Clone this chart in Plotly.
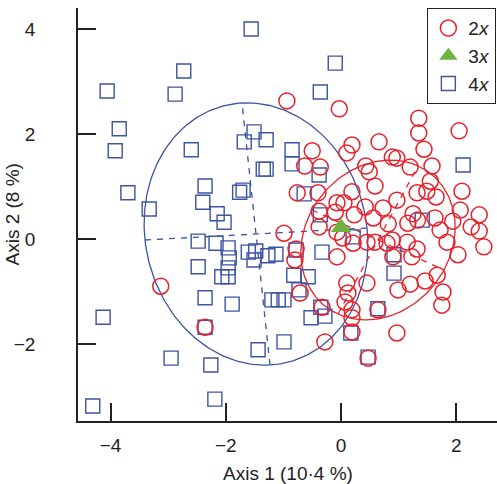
import numpy as np
import plotly.graph_objects as go

# ---- data (axis units) ----
x4 = [-1.56, -2.73, -4.06, -2.88, -3.85, -3.92, -2.60, -3.70, -3.33, -2.36, -2.40,
      -1.51, -1.68, -1.30, -0.85, -0.85, -1.35, -1.30, -2.15, -2.03, -1.76, -1.70,
      -0.64, -0.10, -0.36, -0.38, -0.36, 2.12, 1.41, -2.48, -2.17, -1.96, -1.94,
      -1.61, -1.48, -1.51, -1.27, -1.13, -2.48, -2.07, -1.96, -1.96, -0.82, -0.57,
      -0.73, -0.78, -0.33, 0.21, -2.36, -1.89, -1.20, -1.09, -0.99, -0.35, -0.52,
      -0.28, -2.36, -4.13, -0.99, -1.44, -2.95, -2.26, -2.19, -4.31, 0.17, 0.64,
      0.47, 0.92, 0.92]
y4 = [4.00, 3.20, 2.82, 2.76, 2.10, 1.68, 1.70, 0.88, 0.57, 1.01, 0.70,
      2.04, 1.85, 1.89, 1.70, 1.43, 1.33, 1.33, 0.48, 0.32, 0.89, 0.93,
      0.86, 3.35, 2.80, 1.22, 0.46, 1.41, 0.36, -0.04, -0.08, -0.17, -0.36,
      -0.25, -0.23, -0.40, -0.32, -0.29, -0.53, -0.72, -0.72, -0.55, -0.69, -0.72,
      -0.97, -0.21, -0.25, 0.04, -1.12, -1.24, -1.16, -1.16, -1.16, -1.30, -1.50,
      -1.47, -1.68, -1.49, -1.96, -2.11, -2.27, -2.40, -3.05, -3.18, -1.79, -1.33,
      -2.25, -0.30, -0.65]

x2 = [-3.13, -2.36, -0.94, -0.03, 1.35, 1.35, 2.05, 1.44, 0.66, 0.19, 0.10,
      -0.50, -0.63, -0.36, 0.43, 0.49, 0.89, 0.97, 1.20, 1.58, 1.55, 0.59,
      -0.40, -0.76, 1.65, 1.32, 2.10, 0.19, -0.07, 0.05, 0.42, 0.73, 0.97,
      1.25, 1.63, 1.94, 2.07, 2.40, 2.26, 2.40, 1.72, 1.84, 2.03, 2.48, 1.16,
      1.33, 0.82, 0.89, 0.56, 0.23, -0.38, -0.10, -0.99, -0.38, -0.07, 0.03,
      0.21, 0.45, 0.59, 0.80, 1.15, 1.32, 0.90, 1.23, -0.07, -0.80, -0.78,
      0.10, 0.45, 0.12, 0.07, 0.19, 0.19, 0.64, 0.19, -0.28, 0.47, 0.97,
      -0.71, 1.67, 1.46, 1.20, 0.99, 1.77, 1.75, -0.33, 1.49]
y2 = [-0.90, -1.68, 2.63, 2.48, 2.30, 2.02, 2.06, 1.71, 1.85, 1.79, 1.64,
      1.68, 1.39, 1.37, 1.39, 1.28, 1.56, 1.54, 1.37, 1.39, 1.10, 1.01,
      0.88, 0.88, 0.80, 0.88, 0.91, 0.90, 0.69, 0.69, 0.61, 0.59, 0.74,
      0.48, 0.40, 0.34, 0.55, 0.46, 0.23, 0.15, 0.17, -0.06, -0.30, -0.15, 0.30,
      0.36, 0.29, -0.02, 0.40, 0.46, 0.53, 0.51, 0.11, 0.23, 0.13, 0.02,
      -0.08, -0.06, -0.06, -0.08, -0.06, -0.19, -0.34, -0.34, -0.34, -0.40, -0.19,
      -0.84, -0.84, -1.03, -1.20, -1.35, -1.50, -1.35, -1.77, -1.96, -2.27, -1.79,
      -1.03, -0.69, -0.80, -0.86, -0.97, -1.01, -1.26, -1.30, 0.91]

x3 = [0.00]
y3 = [0.22]

# ellipse parameters: centre and two half-axis vectors (axis units)
ell4_center = (-1.476, 0.095)
ell4_major = (-0.243, 2.495)
ell4_minor = (1.927, 0.114)
ell2_center = (0.642, -0.019)
ell2_major = (0.694, 1.410)
ell2_minor = (1.146, -0.571)

xticks = [-4, -2, 0, 2]
xtick_text = ["\u22124", "\u22122", "0", "2"]
yticks = [-2, 0, 2, 4]
ytick_text = ["\u22122", "0", "2", "4"]

RED = "#e8212b"
BLUE = "#3b54a4"
GREEN = "#6cb33f"

fig = go.Figure()


def add_ellipse(center, major, minor, color):
    t = np.linspace(0, 2 * np.pi, 241)
    cx, cy = center
    ex = cx + major[0] * np.cos(t) + minor[0] * np.sin(t)
    ey = cy + major[1] * np.cos(t) + minor[1] * np.sin(t)
    fig.add_trace(go.Scatter(x=ex, y=ey, mode="lines", line=dict(color=color, width=1.3),
                             showlegend=False, hoverinfo="skip"))
    for v in (major, minor):
        fig.add_trace(go.Scatter(x=[cx - v[0], cx + v[0]], y=[cy - v[1], cy + v[1]],
                                 mode="lines", line=dict(color=color, width=1.3, dash="6px,6px"),
                                 showlegend=False, hoverinfo="skip"))


add_ellipse(ell4_center, ell4_major, ell4_minor, BLUE)
add_ellipse(ell2_center, ell2_major, ell2_minor, RED)

fig.add_trace(go.Scatter(x=x4, y=y4, mode="markers", name="4<i>x</i>", legendrank=3,
                         marker=dict(symbol="square-open", size=14, color=BLUE,
                                     line=dict(width=1.4, color=BLUE))))
fig.add_trace(go.Scatter(x=x2, y=y2, mode="markers", name="2<i>x</i>", legendrank=1,
                         marker=dict(symbol="circle-open", size=16, color=RED,
                                     line=dict(width=1.5, color=RED))))
fig.add_trace(go.Scatter(x=x3, y=y3, mode="markers", name="3<i>x</i>", legendrank=2,
                         marker=dict(symbol="triangle-up", size=18, color=GREEN)))

FONT = "Liberation Sans, Arial, sans-serif"
axis_font = dict(family=FONT, size=19, color="#222")

fig.update_layout(
    width=497, height=484,
    margin=dict(l=78, r=0, t=8, b=63, autoexpand=False),
    plot_bgcolor="white", paper_bgcolor="white",
    font=axis_font,
    showlegend=True,
    legend=dict(x=0.998, y=1.0, xanchor="right", yanchor="top",
                bordercolor="#222", borderwidth=1.2, bgcolor="white",
                font=dict(family=FONT, size=19, color="#222"),
                itemwidth=30, tracegroupgap=0),
    xaxis=dict(range=[-4.566, 2.708], showgrid=False, zeroline=False, automargin=False,
               showline=True, linecolor="#222", linewidth=1.5,
               ticks="inside", ticklen=18, tickwidth=1.5, tickcolor="#222",
               tickvals=xticks, ticktext=xtick_text, tickfont=axis_font,
               ticklabelstandoff=6),
    yaxis=dict(range=[-3.467, 4.4], showgrid=False, zeroline=False, automargin=False,
               showline=True, linecolor="#222", linewidth=1.5,
               ticks="inside", ticklen=18, tickwidth=1.5, tickcolor="#222",
               tickvals=yticks, ticktext=ytick_text, tickfont=axis_font,
               ticklabelstandoff=37),
    annotations=[
        dict(text="Axis 1 (10\u00b74 %)", xref="paper", yref="paper", x=0.5, y=-0.128,
             xanchor="center", yanchor="middle", showarrow=False, font=axis_font),
        dict(text="Axis 2 (8 %)", xref="paper", yref="paper", x=-0.1575, y=0.5,
             xanchor="center", yanchor="middle", textangle=-90, showarrow=False, font=axis_font),
    ],
)

fig.write_html("out.html", config={"displayModeBar": False},
               post_script="document.body.style.margin='0';document.body.style.overflow='hidden';")
